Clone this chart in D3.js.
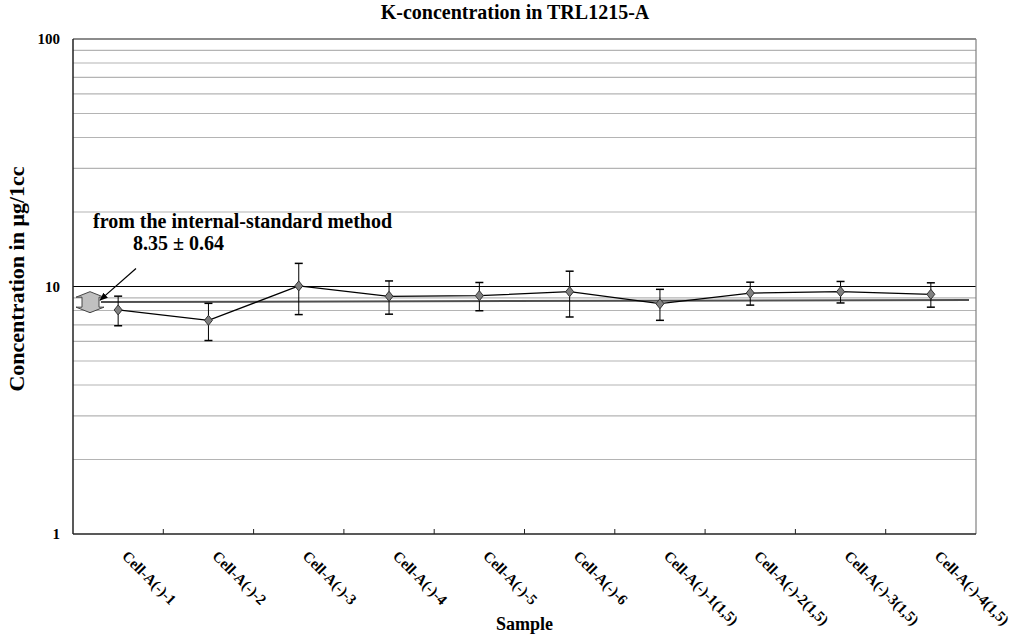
<!DOCTYPE html>
<html>
<head>
<meta charset="utf-8">
<script src="https://cdn.jsdelivr.net/npm/d3@7"></script>
<style>
  body { margin: 0; background: #fff; }
  text { font-family: "Liberation Serif", "Times New Roman", serif; font-weight: bold; fill: #000; }
</style>
</head>
<body>
<svg id="chart" width="1016" height="636"></svg>
<script>
// data
var categories = ["Cell-A(-)-1", "Cell-A(-)-2", "Cell-A(-)-3", "Cell-A(-)-4", "Cell-A(-)-5",
                  "Cell-A(-)-6", "Cell-A(-)-1(1,5)", "Cell-A(-)-2(1,5)", "Cell-A(-)-3(1,5)", "Cell-A(-)-4(1,5)"];
var values = [8.04, 7.30, 10.05, 9.13, 9.18, 9.53, 8.52, 9.41, 9.53, 9.30];
var errors = [1.10, 1.25, 2.35, 1.40, 1.20, 2.00, 1.22, 1.00, 0.95, 1.05];
var yTicks = [1, 10, 100];
var minorTicks = [2, 3, 4, 5, 6, 7, 8, 9, 20, 30, 40, 50, 60, 70, 80, 90];
var meanLine = [8.65, 8.82];      // slightly tilted average line (start, end)
var standardRange = [7.84, 9.53]; // double arrow on the left (bottom tip, top tip)

var margin = {top: 39, right: 40, bottom: 102, left: 73},
    width = 1016 - margin.left - margin.right,
    height = 636 - margin.top - margin.bottom;

var svg = d3.select("#chart");
var g = svg.append("g")
    .attr("transform", "translate(" + margin.left + "," + margin.top + ")");

var x = d3.scaleBand().domain(categories).range([0, width]).padding(0);
var y = d3.scaleLog().domain([1, 100]).range([height, 0]);

// minor gridlines
g.selectAll(".minor")
  .data(minorTicks)
  .enter().append("line")
    .attr("x1", 0).attr("x2", width)
    .attr("y1", function(d) { return y(d); })
    .attr("y2", function(d) { return y(d); })
    .attr("stroke", "#b4b4b4")
    .attr("stroke-width", 1.2);

// line at 10
g.append("line")
    .attr("x1", 0).attr("x2", width)
    .attr("y1", y(10)).attr("y2", y(10))
    .attr("stroke", "#000")
    .attr("stroke-width", 1.2);

// frame
g.append("line").attr("x1", 0).attr("x2", width).attr("y1", 0).attr("y2", 0)
    .attr("stroke", "#666").attr("stroke-width", 1.5);
g.append("line").attr("x1", width).attr("x2", width).attr("y1", 0).attr("y2", height)
    .attr("stroke", "#808080").attr("stroke-width", 1.2);

// axes
var xAxis = g.append("g")
    .attr("transform", "translate(0," + height + ")");
xAxis.append("line").attr("x1", 0).attr("x2", width)
    .attr("stroke", "#222").attr("stroke-width", 1.5);
xAxis.selectAll(".tick")
  .data(categories.slice(1))
  .enter().append("line")
    .attr("x1", function(d) { return x(d); })
    .attr("x2", function(d) { return x(d); })
    .attr("y1", 0).attr("y2", -5)
    .attr("stroke", "#222");
xAxis.selectAll(".lab")
  .data(categories)
  .enter().append("text")
    .attr("transform", function(d) {
      return "translate(" + (x(d) + x.bandwidth() / 2 + 3) + ",23) rotate(45)";
    })
    .attr("text-anchor", "start")
    .style("font-size", "15px")
    .text(function(d) { return d; });

g.append("line").attr("x1", 0).attr("x2", 0).attr("y1", 0).attr("y2", height)
    .attr("stroke", "#222").attr("stroke-width", 1.5);
g.selectAll(".ylab")
  .data(yTicks)
  .enter().append("text")
    .attr("x", -13)
    .attr("y", function(d) { return y(d); })
    .attr("dy", "0.35em")
    .attr("text-anchor", "end")
    .style("font-size", "15px")
    .text(function(d) { return d; });

// average line
g.append("line")
    .attr("x1", 28).attr("x2", width - 7)
    .attr("y1", y(meanLine[0])).attr("y2", y(meanLine[1]))
    .attr("stroke", "#505050")
    .attr("stroke-width", 2);

// double arrow for internal-standard value
var aTop = y(standardRange[1]), aBot = y(standardRange[0]),
    ax0 = 3, ax1 = 31, sx0 = 9, sx1 = 26, head = 5.5;
var arrowPts = [[(ax0 + ax1) / 2, aTop], [ax1, aTop + head], [sx1, aTop + head], [sx1, aBot - head],
                [ax1, aBot - head], [(ax0 + ax1) / 2, aBot], [ax0, aBot - head], [sx0, aBot - head],
                [sx0, aTop + head], [ax0, aTop + head]];
g.append("path")
    .attr("d", d3.line()(arrowPts) + "Z")
    .attr("fill", "#c0c0c0")
    .attr("stroke", "#444")
    .attr("stroke-width", 1);

// annotation
svg.append("defs").append("marker")
    .attr("id", "tip")
    .attr("viewBox", "0 0 10 10")
    .attr("refX", 9).attr("refY", 5)
    .attr("markerWidth", 7).attr("markerHeight", 7)
    .attr("orient", "auto")
  .append("path")
    .attr("d", "M0,1 L10,5 L0,9 Z")
    .attr("fill", "#000");
g.append("line")
    .attr("x1", 63).attr("y1", y(10) - 18)
    .attr("x2", 27).attr("y2", (aTop + aBot) / 2 - 2)
    .attr("stroke", "#000")
    .attr("stroke-width", 1.2)
    .attr("marker-end", "url(#tip)");
g.append("text")
    .attr("x", 20).attr("y", 189)
    .style("font-size", "20px")
    .text("from the internal-standard method");
g.append("text")
    .attr("x", 60).attr("y", 211)
    .style("font-size", "20px")
    .text("8.35 \u00b1 0.64");

// data line
var cx = function(d, i) { return x(categories[i]) + x.bandwidth() / 2; };
g.append("path")
    .datum(values)
    .attr("fill", "none")
    .attr("stroke", "#000")
    .attr("stroke-width", 1.3)
    .attr("d", d3.line().x(cx).y(function(d) { return y(d); }));

// error bars
var eb = g.selectAll(".err")
  .data(values)
  .enter().append("g");
eb.append("line")
    .attr("x1", cx).attr("x2", cx)
    .attr("y1", function(d, i) { return y(d + errors[i]); })
    .attr("y2", function(d, i) { return y(d - errors[i]); })
    .attr("stroke", "#000");
eb.append("line")
    .attr("x1", function(d, i) { return cx(d, i) - 4; })
    .attr("x2", function(d, i) { return cx(d, i) + 4; })
    .attr("y1", function(d, i) { return y(d + errors[i]); })
    .attr("y2", function(d, i) { return y(d + errors[i]); })
    .attr("stroke", "#000").attr("stroke-width", 1.5);
eb.append("line")
    .attr("x1", function(d, i) { return cx(d, i) - 4; })
    .attr("x2", function(d, i) { return cx(d, i) + 4; })
    .attr("y1", function(d, i) { return y(d - errors[i]); })
    .attr("y2", function(d, i) { return y(d - errors[i]); })
    .attr("stroke", "#000").attr("stroke-width", 1.5);

// diamond markers
g.selectAll(".pt")
  .data(values)
  .enter().append("path")
    .attr("transform", function(d, i) { return "translate(" + cx(d, i) + "," + y(d) + ")"; })
    .attr("d", "M0,-5 L4,0 L0,5 L-4,0 Z")
    .attr("fill", "#808080")
    .attr("stroke", "#333");

// titles
svg.append("text")
    .attr("x", 515).attr("y", 19)
    .attr("text-anchor", "middle")
    .style("font-size", "20px")
    .text("K-concentration in TRL1215-A");
svg.append("text")
    .attr("x", margin.left + width / 2).attr("y", 630)
    .attr("text-anchor", "middle")
    .style("font-size", "18px")
    .text("Sample");
svg.append("text")
    .attr("transform", "translate(24,279) rotate(-90)")
    .attr("text-anchor", "middle")
    .style("font-size", "22px")
    .text("Concentration in \u03bcg/1cc");
</script>
</body>
</html>
